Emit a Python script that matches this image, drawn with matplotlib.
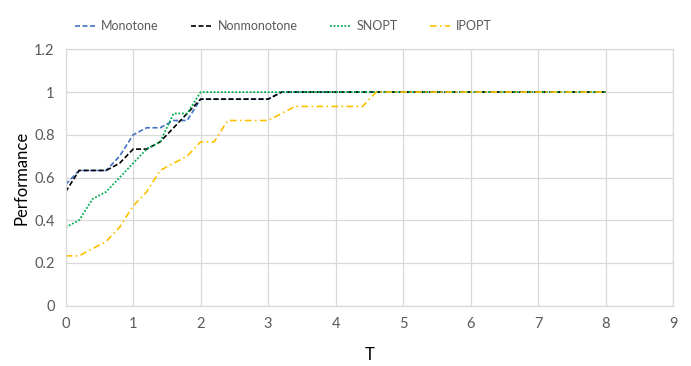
import matplotlib.pyplot as plt
import numpy as np

# T sampled every 0.2 from 0 to 8
t = np.round(np.arange(0, 8.01, 0.2), 1)

monotone_head = [0.567, 0.633, 0.633, 0.633, 0.700, 0.800, 0.833, 0.833, 0.867, 0.867,
                 0.967, 0.967, 0.967, 0.967, 0.967, 0.967]
nonmonotone_head = [0.533, 0.633, 0.633, 0.633, 0.667, 0.733, 0.733, 0.767, 0.833, 0.900,
                    0.967, 0.967, 0.967, 0.967, 0.967, 0.967]
snopt_head = [0.367, 0.400, 0.500, 0.533, 0.600, 0.667, 0.733, 0.767, 0.900, 0.900, 1.0]
ipopt_head = [0.233, 0.233, 0.267, 0.300, 0.367, 0.467, 0.533, 0.633, 0.667, 0.700,
              0.767, 0.767, 0.867, 0.867, 0.867, 0.867, 0.900, 0.933, 0.933, 0.933,
              0.933, 0.933, 0.933]

def pad(vals):
    return vals + [1.0] * (len(t) - len(vals))

monotone = pad(monotone_head)
nonmonotone = pad(nonmonotone_head)
snopt = pad(snopt_head)
ipopt = pad(ipopt_head)

plt.rcParams['font.family'] = ['Lato', 'DejaVu Sans']

fig = plt.figure(figsize=(6.91, 3.66), dpi=100)
ax = fig.add_axes([0.095, 0.165, 0.879, 0.700])

ax.plot(t, monotone, color='#4472C4', lw=1.2, ls=(0, (3, 1.5)), label='Monotone')
ax.plot(t, nonmonotone, color='black', lw=1.2, ls=(0, (3, 1.5)), label='Nonmonotone')
ax.plot(t, snopt, color='#00B050', lw=1.3, ls=(0, (1, 1)), label='SNOPT')
ax.plot(t, ipopt, color='#FFC000', lw=1.2, ls=(0, (4, 2, 1, 2)), label='IPOPT')

ax.set_xlim(0, 9)
ax.set_ylim(0, 1.2)
ax.set_xticks(range(0, 10))
ax.set_yticks([0, 0.2, 0.4, 0.6, 0.8, 1, 1.2])
ax.set_yticklabels(['0', '0.2', '0.4', '0.6', '0.8', '1', '1.2'])
ax.grid(True, color='#D9D9D9', lw=0.9)
ax.set_axisbelow(True)
for s in ax.spines.values():
    s.set_color('#D9D9D9')
    s.set_linewidth(0.9)
ax.tick_params(length=0, labelsize=10.5, labelcolor='#595959', pad=8)

ax.set_xlabel('T', fontsize=12, labelpad=12)
ax.set_ylabel('Performance', fontsize=12, labelpad=3)

leg = fig.legend(loc='center', bbox_to_anchor=(0.41, 0.928), ncol=4, frameon=False,
                 fontsize=9, handlelength=1.6, columnspacing=2.6, handletextpad=0.5)
for txt in leg.get_texts():
    txt.set_color('#595959')

fig.savefig('out.png', dpi=100)
